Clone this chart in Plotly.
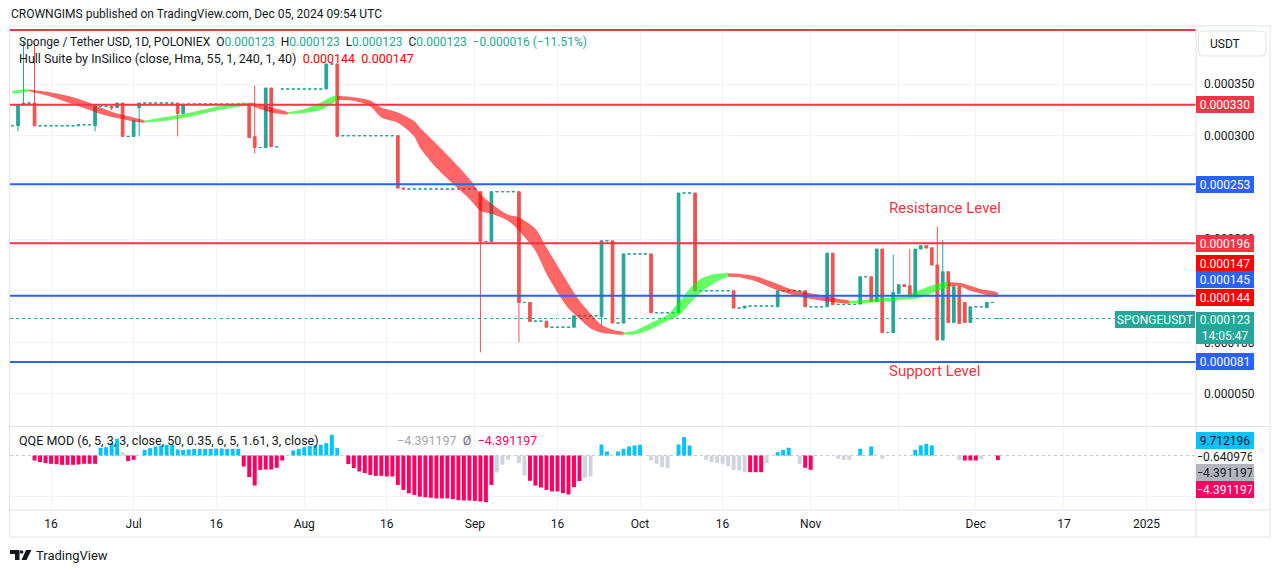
import pandas as pd
import plotly.graph_objects as go

W, H = 1281, 573
FONT = "Roboto, 'Noto Sans', sans-serif"
INK = "#131722"
GRID = "#f0f3fa"
FRAME = "#e0e3eb"
UP = "#26a69a"
DOWN = "#ef5350"
LVL_RED = "#f23645"
LVL_BLUE = "#2962ff"
USD = 1e-6  # prices below are written in millionths of a USDT

# SPONGE/USDT daily candles, 2024-06-09 .. 2024-12-05, ten bars per row
bar_dates = pd.date_range("2024-06-09", "2024-12-05", freq="D")

open_u = [
    309.6, 309.6, 329.7, 331.6, 331.6, 309.6, 309.6, 309.6, 309.6, 309.6,
    309.6, 309.6, 309.6, 310.6, 310.6, 309.6, 328.3, 328.3, 328.3, 327.3,
    331.6, 299.3, 299.3, 327.3, 331.6, 331.6, 331.6, 331.6, 331.6, 331.6,
    331.6, 321.5, 330.6, 330.6, 330.6, 330.6, 330.6, 330.6, 330.6, 330.6,
    330.6, 330.6, 330.6, 330.6, 299.0, 288.6, 288.6, 346.1, 289.3, 345.2,
    345.2, 345.2, 345.2, 345.2, 345.2, 345.2, 345.2, 345.2, 369.4, 369.4,
    300.0, 300.0, 300.0, 300.0, 300.0, 300.0, 300.0, 300.0, 300.0, 300.0,
    300.0, 249.3, 248.4, 248.4, 248.4, 248.4, 248.4, 248.4, 248.4, 248.4,
    248.4, 248.4, 248.4, 248.4, 248.4, 245.8, 197.6, 197.6, 245.8, 245.8,
    245.8, 245.8, 245.8, 138.6, 138.6, 120.5, 120.5, 120.5, 114.6, 114.6,
    114.6, 114.6, 114.6, 125.7, 125.7, 125.7, 125.7, 125.0, 198.3, 198.3,
    118.6, 118.6, 185.6, 185.6, 185.6, 185.6, 185.6, 128.6, 128.6, 128.6,
    128.6, 128.6, 244.5, 244.5, 244.5, 149.9, 149.9, 149.9, 149.9, 149.9,
    149.9, 149.9, 133.1, 133.1, 135.1, 135.1, 135.1, 135.1, 135.1, 134.4,
    149.9, 149.9, 149.9, 149.9, 149.9, 134.4, 134.4, 134.4, 134.4, 186.3,
    136.7, 136.7, 136.7, 136.7, 137.0, 163.5, 163.5, 139.6, 190.3, 109.5,
    109.5, 147.3, 155.7, 154.7, 144.1, 190.3, 193.5, 191.5, 174.8, 102.2,
    168.3, 119.2, 153.8, 138.6, 119.2, 134.4, 134.4, 133.7, 138.6, 123.0,
]
high_u = [
    309.6, 329.7, 392.0, 331.6, 390.0, 309.6, 309.6, 309.6, 309.6, 309.6,
    309.6, 309.6, 310.6, 310.6, 310.6, 328.3, 328.3, 328.3, 328.3, 331.6,
    331.6, 299.3, 314.5, 331.6, 331.6, 331.6, 331.6, 331.6, 331.6, 331.6,
    331.6, 330.6, 330.6, 330.6, 330.6, 330.6, 330.6, 330.6, 330.6, 330.6,
    330.6, 330.6, 330.6, 330.6, 348.4, 288.6, 346.1, 346.1, 289.3, 345.2,
    345.2, 345.2, 345.2, 345.2, 345.2, 345.2, 345.2, 369.4, 369.4, 369.4,
    300.0, 300.0, 300.0, 300.0, 300.0, 300.0, 300.0, 300.0, 300.0, 300.0,
    300.0, 249.3, 248.4, 248.4, 248.4, 248.4, 248.4, 248.4, 248.4, 248.4,
    248.4, 248.4, 248.4, 248.4, 248.4, 245.8, 197.6, 245.8, 245.8, 245.8,
    245.8, 245.8, 245.8, 138.6, 138.6, 120.5, 120.5, 120.5, 114.6, 114.6,
    114.6, 114.6, 125.7, 125.7, 125.7, 125.7, 125.7, 198.3, 198.3, 198.3,
    118.6, 185.6, 185.6, 185.6, 185.6, 185.6, 185.6, 128.6, 128.6, 128.6,
    128.6, 244.5, 244.5, 244.5, 244.5, 149.9, 149.9, 149.9, 149.9, 149.9,
    149.9, 149.9, 133.1, 135.1, 135.1, 135.1, 135.1, 135.1, 135.1, 149.9,
    149.9, 149.9, 149.9, 149.9, 149.9, 134.4, 134.4, 134.4, 186.3, 186.3,
    136.7, 136.7, 136.7, 136.7, 163.5, 163.5, 163.5, 190.3, 190.3, 109.5,
    184.8, 155.7, 155.7, 190.3, 190.3, 193.5, 193.5, 191.5, 211.9, 199.0,
    168.3, 153.8, 153.8, 138.6, 134.4, 134.4, 134.4, 138.6, 138.6, 123.0,
]
low_u = [
    309.6, 304.1, 329.7, 331.6, 309.6, 309.6, 309.6, 309.6, 309.6, 309.6,
    309.6, 309.6, 309.6, 310.6, 310.6, 304.1, 328.3, 328.3, 324.8, 327.3,
    299.3, 299.3, 299.3, 299.3, 331.6, 331.6, 331.6, 331.6, 331.6, 331.6,
    299.3, 321.5, 330.6, 330.6, 330.6, 330.6, 330.6, 330.6, 330.6, 330.6,
    330.6, 330.6, 330.6, 298.3, 282.8, 288.6, 288.6, 289.3, 289.3, 345.2,
    345.2, 345.2, 345.2, 345.2, 345.2, 345.2, 345.2, 345.2, 369.4, 299.3,
    300.0, 300.0, 300.0, 300.0, 300.0, 300.0, 300.0, 300.0, 300.0, 300.0,
    249.3, 248.4, 248.4, 248.4, 248.4, 248.4, 248.4, 248.4, 248.4, 248.4,
    248.4, 248.4, 248.4, 248.4, 248.4, 90.2, 197.6, 197.6, 245.8, 245.8,
    245.8, 245.8, 99.9, 138.6, 120.2, 120.5, 120.5, 114.6, 114.6, 114.6,
    114.6, 114.6, 114.6, 125.7, 125.7, 125.7, 125.7, 116.0, 198.3, 118.6,
    118.6, 118.6, 185.6, 185.6, 185.6, 185.6, 128.6, 128.6, 128.6, 128.6,
    128.6, 128.6, 244.5, 244.5, 149.9, 149.9, 149.9, 149.9, 149.9, 149.9,
    149.9, 133.1, 133.1, 133.1, 135.1, 135.1, 135.1, 135.1, 135.1, 134.4,
    149.9, 149.9, 149.9, 149.9, 134.4, 134.4, 134.4, 134.4, 134.4, 136.4,
    136.7, 136.7, 136.7, 136.7, 137.0, 163.5, 139.6, 139.6, 109.5, 109.5,
    109.5, 147.3, 154.0, 144.1, 144.1, 190.3, 191.2, 174.8, 102.2, 102.2,
    119.2, 119.2, 118.3, 119.2, 119.2, 134.4, 134.4, 133.7, 138.6, 123.0,
]
close_u = [
    309.6, 329.7, 331.6, 331.6, 309.6, 309.6, 309.6, 309.6, 309.6, 309.6,
    309.6, 309.6, 310.6, 310.6, 310.6, 328.3, 328.3, 328.3, 326.8, 331.6,
    299.3, 299.3, 314.5, 331.6, 331.6, 331.6, 331.6, 331.6, 331.6, 331.6,
    321.5, 330.6, 330.6, 330.6, 330.6, 330.6, 330.6, 330.6, 330.6, 330.6,
    330.6, 330.6, 330.6, 298.3, 288.6, 288.6, 346.1, 289.3, 289.3, 345.2,
    345.2, 345.2, 345.2, 345.2, 345.2, 345.2, 345.2, 369.4, 369.4, 299.3,
    300.0, 300.0, 300.0, 300.0, 300.0, 300.0, 300.0, 300.0, 300.0, 300.0,
    249.3, 248.4, 248.4, 248.4, 248.4, 248.4, 248.4, 248.4, 248.4, 248.4,
    248.4, 248.4, 248.4, 248.4, 248.4, 197.6, 197.6, 245.8, 245.8, 245.8,
    245.8, 245.8, 138.6, 138.6, 120.2, 120.5, 120.5, 114.6, 114.6, 114.6,
    114.6, 114.6, 125.7, 125.7, 125.7, 125.7, 125.7, 198.3, 198.3, 118.6,
    118.6, 185.6, 185.6, 185.6, 185.6, 185.6, 128.6, 128.6, 128.6, 128.6,
    128.6, 244.5, 244.5, 244.5, 149.9, 149.9, 149.9, 149.9, 149.9, 149.9,
    149.9, 133.1, 133.1, 135.1, 135.1, 135.1, 135.1, 135.1, 135.1, 149.9,
    149.9, 149.9, 149.9, 149.9, 134.4, 134.4, 134.4, 134.4, 186.3, 136.4,
    136.7, 136.7, 136.7, 136.7, 163.5, 163.5, 139.6, 190.3, 109.5, 109.5,
    148.3, 155.7, 154.0, 144.1, 190.3, 193.5, 191.2, 174.8, 102.2, 168.3,
    119.2, 153.8, 118.3, 119.2, 134.4, 134.4, 134.4, 138.6, 138.6, 123.0,
]

# QQE MOD histogram, same days; colour code b = above, p = below, g = neutral
qqe_hist = [
    None, None, None, None, -4.9, -6.5, -7.5, -8.1, -8.5, -9.1,
    -9.1, -9.1, -8.8, -8.1, -8.1, -8.1, 7.5, 8.1, 12.0, 16.3,
    3.3, -5.5, -4.2, None, 5.5, 7.2, 8.8, 9.8, 10.4, 10.4,
    5.9, 5.5, 5.9, 6.5, 6.5, 6.5, 6.5, 6.8, 6.8, 6.5,
    6.5, 6.5, -10.7, -21.1, -29.3, -14.0, -13.7, -13.7, -12.0, -4.9,
    None, 4.9, 6.5, 8.1, 9.4, 10.1, 10.4, 12.0, 20.2, 7.2,
    None, -8.4, -12.3, -15.6, -17.3, -18.9, -19.9, -19.9, -20.5, -20.5,
    -28.7, -33.6, -36.9, -38.5, -40.2, -40.8, -41.2, -41.9, -41.9, -41.9,
    -42.6, -43.6, -43.9, -43.9, -44.3, -44.9, -45.5, -28.7, -16.5, -9.0,
    -4.2, None, -7.5, -19.5, -24.7, -29.3, -31.2, -33.6, -35.1, -35.1,
    -36.7, -38.0, -30.9, -25.0, -21.8, -20.5, None, 10.7, 3.9, None,
    3.9, 6.5, 8.8, 9.8, 10.4, None, -4.9, -8.1, -11.4, -12.4,
    None, 10.7, 17.9, 9.8, None, None, -4.2, -6.5, -7.2, -8.1,
    -10.4, -14.0, -14.6, -16.3, -16.3, -16.3, -16.3, -7.5, None, 3.3,
    5.5, 7.5, None, -8.1, -12.0, -14.0, None, None, None, None,
    -3.3, -4.2, -4.2, None, 6.5, None, 8.8, None, -3.3, None,
    None, None, None, None, 5.5, 9.8, 11.4, 9.8, None, None,
    None, None, -4.2, -4.9, -4.9, -4.9, -3.3, None, None, -4.4,
]
qqe_code = (
    "----pppppp" "ppppppbbbb" "gpp-bbbbbb" "bbbbbbbbbb" "bbpppppppp"
    "-bbbbbbbbb" "-ppppppppp" "pppppppppp" "ppppppppgg" "g-ggpppppp"
    "ppppgg-bb-" "bbbbb-gggg" "-bbb--gggg" "ggggpppg-b" "bb-gpp----"
    "ggg-b-b-g-" "----bbbb--" "--gpppg--p"
)

# Hull Suite band (HMA 55): sampled edges of the ribbon and its trend
hull_dates = [
    "2024-06-09", "2024-06-11", "2024-06-12", "2024-06-16", "2024-06-19",
    "2024-06-22", "2024-06-25", "2024-06-28", "2024-07-01", "2024-07-03",
    "2024-07-07", "2024-07-10", "2024-07-16", "2024-07-19", "2024-07-22",
    "2024-07-24", "2024-07-26", "2024-07-29", "2024-08-01", "2024-08-04",
    "2024-08-06", "2024-08-07", "2024-08-10", "2024-08-13", "2024-08-15",
    "2024-08-18", "2024-08-21", "2024-08-22", "2024-08-25", "2024-08-28",
    "2024-08-31", "2024-09-02", "2024-09-04", "2024-09-07", "2024-09-09",
    "2024-09-12", "2024-09-14", "2024-09-16", "2024-09-18", "2024-09-20",
    "2024-09-22", "2024-09-24", "2024-09-26", "2024-09-28", "2024-09-30",
    "2024-10-03", "2024-10-06", "2024-10-08", "2024-10-10", "2024-10-12",
    "2024-10-14", "2024-10-16", "2024-10-17", "2024-10-19", "2024-10-22",
    "2024-10-25", "2024-10-28", "2024-10-31", "2024-11-03", "2024-11-06",
    "2024-11-08", "2024-11-11", "2024-11-14", "2024-11-17", "2024-11-20",
    "2024-11-22", "2024-11-24", "2024-11-26", "2024-11-28", "2024-11-30",
    "2024-12-02", "2024-12-05",
]
hull_hi = [
    343.5, 345.0, 344.6, 341.9, 338.7, 333.8, 327.3, 321.5, 317.7, 314.5,
    318.3, 321.0, 328.0, 330.6, 331.9, 330.6, 327.3, 322.7, 325.8, 332.2,
    337.7, 338.7, 337.2, 334.0, 327.3, 322.5, 314.0, 308.0, 292.2, 275.8,
    258.3, 243.8, 234.1, 223.5, 220.9, 209.9, 191.8, 174.1, 156.7, 140.2,
    127.9, 117.0, 112.2, 109.8, 111.2, 119.0, 126.7, 138.3, 151.8, 161.5,
    165.4, 166.8, 166.8, 166.3, 163.9, 158.6, 152.3, 148.5, 145.6, 142.2,
    140.2, 141.2, 142.8, 144.1, 148.9, 153.1, 156.7, 158.2, 157.7, 154.8,
    151.4, 148.0,
]
hull_lo = [
    340.6, 342.0, 343.0, 337.7, 332.2, 326.8, 321.0, 317.0, 313.8, 312.8,
    314.5, 317.0, 324.2, 327.3, 330.0, 325.8, 322.5, 320.8, 321.9, 324.9,
    330.6, 334.5, 333.8, 328.2, 317.7, 312.5, 299.0, 288.6, 269.0, 253.5,
    239.0, 227.4, 224.4, 217.7, 208.0, 188.6, 166.4, 148.3, 132.8, 122.8,
    113.4, 109.2, 108.0, 107.6, 107.6, 112.6, 120.8, 125.7, 137.3, 148.0,
    155.7, 161.5, 163.5, 163.0, 159.1, 152.3, 147.0, 143.1, 140.2, 138.3,
    137.6, 138.0, 139.2, 140.9, 142.1, 145.0, 149.9, 153.9, 154.3, 149.9,
    147.0, 144.1,
]
hull_trend = (
    "uu" "ddddddd" "uuuuu" "ddd" "uuuu" "dddddddddddddddddddddd"
    "uuuuuuuuu" "dddddddd" "uuuuuuu" "ddddd"
)

# horizontal levels drawn on the chart
level_prices = [402.3, 330.0, 253.0, 196.0, 145.0, 81.0]
level_colors = [LVL_RED, LVL_RED, LVL_BLUE, LVL_RED, LVL_BLUE, LVL_BLUE]

# price scale labels: text, value, background, pixel nudge
tag_text = ["0.000330", "0.000253", "0.000196", "0.000147", "0.000145", "0.000144", "0.000081"]
tag_value = [330.0, 253.0, 196.0, 147.0, 145.0, 144.0, 81.0]
tag_color = [LVL_RED, LVL_BLUE, LVL_RED, "#ff0000", LVL_BLUE, "#ff0000", LVL_BLUE]
tag_nudge = [0, 0, 0, 30.5, 16, -0.5, 0]
last_price = 123.0

qqe_tag_text = ["9.712196", "\u22120.640976", "\u22124.391197", "\u22124.391197"]
qqe_tag_value = [9.712196, -0.640976, -4.391197, -4.391197]
qqe_tag_bg = ["#00c3ff", "rgba(0,0,0,0)", "#b2b5be", "#ff0062"]
qqe_tag_fg = [INK, INK, INK, "white"]
qqe_tag_nudge = [5.5, 0, -13, -30]

price_ticks = [50, 100, 150, 200, 250, 300, 350]
price_tick_text = ["0.000050", "0.000100", "", "0.000200", "", "0.000300", "0.000350"]
tick_dates = ["2024-06-16", "2024-07-01", "2024-07-16", "2024-08-01", "2024-08-16",
              "2024-09-01", "2024-09-16", "2024-10-01", "2024-10-16", "2024-11-01",
              "2024-11-17", "2024-12-01", "2024-12-17", "2025-01-01"]
tick_text = ["16", "Jul", "16", "Aug", "16", "Sep", "16", "Oct", "16", "Nov",
             "", "Dec", "17", "2025"]

QQE_COLORS = {"b": "#00c3ff", "p": "#ff0062", "g": "#d1d4dc", "-": "rgba(0,0,0,0)"}


def fx(px):
    return px / W


def fy(py):
    return 1 - py / H


fig = go.Figure()

# bars with a real range, then the one-price bars (drawn as teal dashes like TradingView)
flat = [o == h == l == c for o, h, l, c in zip(open_u, high_u, low_u, close_u)]
for want_flat in (False, True):
    idx = [i for i, f in enumerate(flat) if f == want_flat]
    dn = UP if want_flat else DOWN
    fig.add_trace(go.Candlestick(
        x=[bar_dates[i] for i in idx],
        open=[open_u[i] * USD for i in idx],
        high=[high_u[i] * USD for i in idx],
        low=[low_u[i] * USD for i in idx],
        close=[close_u[i] * USD for i in idx],
        increasing=dict(line=dict(color=UP, width=1), fillcolor=UP),
        decreasing=dict(line=dict(color=dn, width=1), fillcolor=dn),
        whiskerwidth=0, showlegend=False, hoverinfo="skip",
    ))

# hull ribbon, one filled polygon per trend run
runs = []
cur = [0]
for i in range(1, len(hull_dates)):
    cur.append(i)
    if hull_trend[i] != hull_trend[cur[0]]:
        runs.append(cur)
        cur = [i]
runs.append(cur)
for run in runs:
    xs = [hull_dates[i] for i in run] + [hull_dates[i] for i in reversed(run)]
    ys = [hull_hi[i] * USD for i in run] + [hull_lo[i] * USD for i in reversed(run)]
    up = hull_trend[run[0]] == "u"
    fig.add_trace(go.Scatter(
        x=xs, y=ys, mode="lines", fill="toself",
        fillcolor="rgba(0,255,0,0.6)" if up else "rgba(255,0,0,0.6)",
        line=dict(width=0, shape="spline", smoothing=0.8),
        showlegend=False, hoverinfo="skip",
    ))

fig.add_trace(go.Bar(
    x=bar_dates, y=qqe_hist, yaxis="y2",
    marker=dict(color=[QQE_COLORS[c] for c in qqe_code], line=dict(width=0)),
    width=0.72 * 86400000, showlegend=False, hoverinfo="skip",
))

shapes = []
# last price dotted line and QQE zero line, under the marks
shapes.append(dict(type="line", xref="x domain", yref="y", x0=0, x1=(1115 - 10) / 1186,
                   y0=last_price * USD, y1=last_price * USD,
                   line=dict(color=UP, width=1, dash="dot"), layer="below"))
shapes.append(dict(type="line", xref="x domain", yref="y2", x0=0, x1=1, y0=0, y1=0,
                   line=dict(color="#c7c9d1", width=1, dash="dot"), layer="below"))
for p, c in zip(level_prices, level_colors):
    shapes.append(dict(type="line", xref="x domain", yref="y", x0=0, x1=1,
                       y0=p * USD, y1=p * USD, line=dict(color=c, width=2), layer="above"))

# chart frame
for x0, y0, x1, y1 in [(10, 26, 1270, 26), (10, 426.5, 1270, 426.5), (10, 510, 1270, 510),
                       (10, 537, 1270, 537), (9.5, 26, 9.5, 537), (1196, 26, 1196, 537),
                       (1270, 26, 1270, 537)]:
    shapes.append(dict(type="line", xref="paper", yref="paper", x0=fx(x0), y0=fy(y0),
                       x1=fx(x1), y1=fy(y1), line=dict(color=FRAME, width=1), layer="above"))


def rounded(x0, y0, x1, y1, r):
    return (f"M{fx(x0 + r)},{fy(y0)} L{fx(x1 - r)},{fy(y0)} Q{fx(x1)},{fy(y0)} {fx(x1)},{fy(y0 + r)} "
            f"L{fx(x1)},{fy(y1 - r)} Q{fx(x1)},{fy(y1)} {fx(x1 - r)},{fy(y1)} "
            f"L{fx(x0 + r)},{fy(y1)} Q{fx(x0)},{fy(y1)} {fx(x0)},{fy(y1 - r)} "
            f"L{fx(x0)},{fy(y0 + r)} Q{fx(x0)},{fy(y0)} {fx(x0 + r)},{fy(y0)} Z")


shapes.append(dict(type="path", xref="paper", yref="paper", path=rounded(1198.5, 31, 1266, 56, 4),
                   fillcolor="white", line=dict(color=FRAME, width=1), layer="above"))


# TradingView logo
def poly(pts):
    return "M" + " L".join(f"{fx(a)},{fy(b)}" for a, b in pts) + " Z"


shapes.append(dict(type="path", xref="paper", yref="paper", layer="above",
                   path=poly([(10, 550), (19.5, 550), (19.5, 560), (15, 560), (15, 554), (10, 554)]),
                   fillcolor=INK, line=dict(width=0)))
shapes.append(dict(type="circle", xref="paper", yref="paper", layer="above",
                   x0=fx(19.8), x1=fx(23.4), y0=fy(553.8), y1=fy(550.2),
                   fillcolor=INK, line=dict(width=0)))
shapes.append(dict(type="path", xref="paper", yref="paper", layer="above",
                   path=poly([(26, 550), (31.5, 550), (26.5, 560), (21.5, 560)]),
                   fillcolor=INK, line=dict(width=0)))

ann = []


def text(x, y, s, size=13, color=INK, anchor="left"):
    ann.append(dict(x=fx(x), y=fy(y), xref="paper", yref="paper", xanchor=anchor, yanchor="middle",
                    text=s, showarrow=False, font=dict(family=FONT, size=size, color=color)))


def span(s, color):
    return f'<span style="color:{color}">{s}</span>'


NB = "\u00a0"
text(9, 14, "CROWNGIMS published on TradingView.com, Dec 05, 2024 09:54 UTC", size=12)
text(17, 42, "Sponge / Tether USD, 1D, POLONIEX" + NB * 2 + "O" + span("0.000123", UP) + NB * 2
     + "H" + span("0.000123", UP) + NB * 2 + "L" + span("0.000123", UP) + NB * 2
     + "C" + span("0.000123", UP) + NB * 2 + span("\u22120.000016 (\u221211.51%)", UP), size=12)
text(17, 58, "Hull Suite by InSilico (close, Hma, 55, 1, 240, 1, 40)" + NB * 2
     + span("0.000144", "#ff0000") + NB * 2 + span("0.000147", "#ff0000"), size=12.5)
text(17, 440, "QQE MOD (6, 5, 3, 3, close, 50, 0.35, 6, 5, 1.61, 3, close)", size=12.5)
text(395, 440, span("\u22124.391197", "#a3a6af") + NB * 2 + span("\u00d8", "#6a6d78") + NB * 2
     + span("\u22124.391197", "#ff0062"), size=12.5)
text(887, 208, "Resistance Level", size=15, color=LVL_RED)
text(887, 371, "Support Level", size=15, color=LVL_RED)
text(1208, 44, "USDT", size=12)
text(34, 555, "TradingView", size=13)

for t, v, bg, nudge in zip(tag_text, tag_value, tag_color, tag_nudge):
    ann.append(dict(x=fx(1196), xref="paper", xanchor="left", y=v * USD, yref="y", yanchor="middle",
                    yshift=nudge, text=t, showarrow=False, bgcolor=bg, bordercolor=bg,
                    borderwidth=1, borderpad=1, width=54, height=13, align="center",
                    font=dict(family=FONT, size=12, color="white")))
ann.append(dict(x=fx(1196), xref="paper", xanchor="left", y=last_price * USD, yref="y",
                yanchor="top", yshift=7, text="0.000123<br>14:05:47", showarrow=False,
                bgcolor=UP, bordercolor=UP, borderwidth=1, borderpad=1, width=54, height=28,
                align="center", font=dict(family=FONT, size=12, color="white")))
ann.append(dict(x=fx(1195), xref="paper", xanchor="right", y=last_price * USD, yref="y",
                yanchor="middle", yshift=-1, text="SPONGEUSDT", showarrow=False,
                bgcolor=UP, bordercolor=UP, borderwidth=1, borderpad=1, width=76, height=13,
                align="center", font=dict(family=FONT, size=12, color="white")))
for t, v, bg, fg, nudge in zip(qqe_tag_text, qqe_tag_value, qqe_tag_bg, qqe_tag_fg, qqe_tag_nudge):
    ann.append(dict(x=fx(1196), xref="paper", xanchor="left", y=v, yref="y2", yanchor="middle",
                    yshift=nudge, text=t, showarrow=False, bgcolor=bg, bordercolor=bg,
                    borderwidth=1, borderpad=1, width=54, height=13, align="center",
                    font=dict(family=FONT, size=12, color=fg)))

fig.update_layout(
    width=W, height=H, margin=dict(l=0, r=0, t=0, b=0),
    paper_bgcolor="white", plot_bgcolor="white",
    font=dict(family=FONT, size=12, color=INK),
    showlegend=False, hovermode=False,
    xaxis=dict(domain=[fx(10), fx(1196)], type="date",
               range=["2024-06-08 13:00", "2025-01-10 00:00"], anchor="y2",
               tickvals=tick_dates, ticktext=tick_text, ticks="", ticklabelstandoff=5,
               showgrid=True, gridcolor=GRID, gridwidth=1, zeroline=False, showline=False,
               rangeslider=dict(visible=False), tickfont=dict(size=12, color=INK)),
    yaxis=dict(domain=[fy(426), fy(27)], range=[19.0 * USD, 405.2 * USD], side="right",
               anchor="x", tickvals=[v * USD for v in price_ticks], ticktext=price_tick_text,
               ticks="", ticklabelstandoff=7, showgrid=True, gridcolor=GRID,
               zeroline=False, showline=False, tickfont=dict(size=12, color=INK)),
    yaxis2=dict(domain=[fy(510), fy(427)], range=[-53.2, 27.8], side="right", anchor="x",
                tickvals=[-40], showticklabels=False, showgrid=True, gridcolor=GRID,
                zeroline=False, showline=False),
    shapes=shapes, annotations=ann,
)

fig.write_html("out.html", config={"displayModeBar": False},
               post_script="document.body.style.margin='0';")
